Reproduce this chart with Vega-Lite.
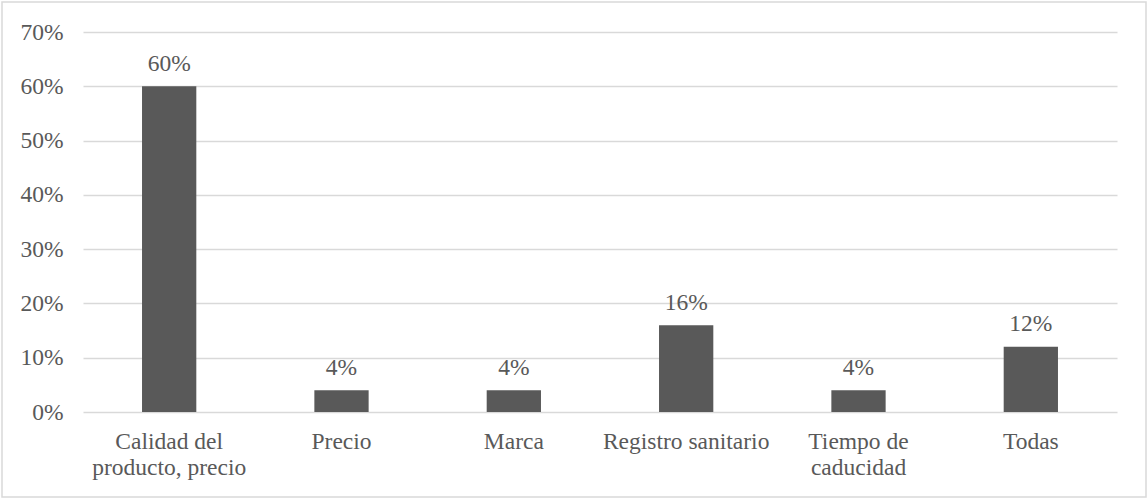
{
  "$schema": "https://vega.github.io/schema/vega-lite/v6.json",
  "width": 1144,
  "height": 495,
  "autosize": {"type": "none"},
  "padding": {"left": 2, "top": 2, "right": 1, "bottom": 1},
  "background": "#ffffff",
  "config": {
    "font": "Liberation Serif",
    "view": {"stroke": "#d9d9d9", "strokeWidth": 1.5}
  },
  "data": {
    "values": [
      {"factor": "Calidad del producto, precio", "share": 0.60},
      {"factor": "Precio", "share": 0.04},
      {"factor": "Marca", "share": 0.04},
      {"factor": "Registro sanitario", "share": 0.16},
      {"factor": "Tiempo de caducidad", "share": 0.04},
      {"factor": "Todas", "share": 0.12}
    ]
  },
  "encoding": {
    "x": {
      "field": "factor",
      "type": "nominal",
      "sort": null,
      "title": null,
      "scale": {"range": [81, 1115], "paddingInner": 0.685, "paddingOuter": 0.3425},
      "axis": {
        "orient": "bottom",
        "offset": -85,
        "domain": false,
        "ticks": false,
        "labelAngle": 0,
        "labelFont": "Liberation Serif",
        "labelFontSize": 23.5,
        "labelColor": "#595959",
        "labelPadding": 17,
        "labelLineHeight": 26,
        "labelLimit": 0,
        "labelExpr": "datum.value == 'Calidad del producto, precio' ? ['Calidad del', 'producto, precio'] : datum.value == 'Tiempo de caducidad' ? ['Tiempo de', 'caducidad'] : datum.value"
      }
    },
    "y": {
      "field": "share",
      "type": "quantitative",
      "title": null,
      "scale": {"domain": [0, 0.7], "range": [410, 30], "nice": false, "zero": true},
      "axis": {
        "orient": "left",
        "offset": -61,
        "values": [0, 0.1, 0.2, 0.3, 0.4, 0.5, 0.6, 0.7],
        "format": ".0%",
        "domain": false,
        "ticks": false,
        "labelPadding": 0,
        "labelFont": "Liberation Serif",
        "labelFontSize": 23.5,
        "labelColor": "#595959",
        "grid": true,
        "gridColor": "#d9d9d9",
        "gridWidth": 1.5
      }
    }
  },
  "layer": [
    {
      "mark": {"type": "bar", "color": "#595959"}
    },
    {
      "mark": {
        "type": "text",
        "baseline": "alphabetic",
        "align": "center",
        "dy": -15.5,
        "font": "Liberation Serif",
        "fontSize": 23.5,
        "color": "#595959"
      },
      "encoding": {
        "text": {"field": "share", "type": "quantitative", "format": ".0%"}
      }
    }
  ]
}
